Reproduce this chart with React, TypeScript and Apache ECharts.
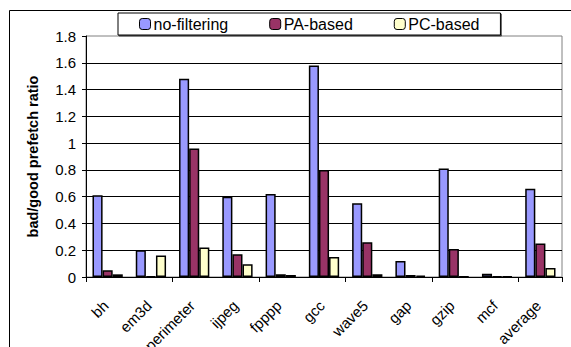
import React, { useEffect, useRef } from "react";
import * as echarts from "echarts";

const categories = ["bh", "em3d", "perimeter", "ijpeg", "fpppp", "gcc", "wave5", "gap", "gzip", "mcf", "average"];
const noFiltering = [0.61, 0.2, 1.48, 0.6, 0.62, 1.58, 0.55, 0.12, 0.81, 0.025, 0.66];
const paBased = [0.05, 0.005, 0.96, 0.17, 0.02, 0.8, 0.26, 0.015, 0.21, 0.005, 0.25];
const pcBased = [0.02, 0.16, 0.22, 0.095, 0.015, 0.15, 0.02, 0.01, 0.003, 0.004, 0.067];
const yTicks = [0, 0.2, 0.4, 0.6, 0.8, 1, 1.2, 1.4, 1.6, 1.8];

export default function App() {
  const ref = useRef<HTMLDivElement>(null);
  useEffect(() => {
    if (!ref.current) return;
    const chart = echarts.init(ref.current, null, { renderer: "svg" });
    const font = "Liberation Sans, Arial, sans-serif";
    const mk = (name: string, data: number[], color: string) => ({
      name,
      type: "bar",
      data,
      barGap: "0%",
      barCategoryGap: "30%",
      itemStyle: { color, borderColor: "#000", borderWidth: 1.5 },
    });
    chart.setOption({
      animation: false,
      backgroundColor: "#fff",
      textStyle: { fontFamily: font },
      graphic: [
        {
          type: "rect",
          shape: { x: 9.5, y: 10.5, width: 700, height: 500 },
          style: { fill: "none", stroke: "#000", lineWidth: 1 },
          silent: true,
          z: -1,
        },
      ],
      legend: {
        left: 118,
        top: 13,
        padding: [3, 21, 3, 21],
        itemGap: 41,
        itemWidth: 11,
        itemHeight: 11,
        borderColor: "#000",
        borderWidth: 1,
        backgroundColor: "#fff",
        shadowColor: "rgba(0,0,0,0.6)",
        shadowOffsetX: 1,
        shadowOffsetY: 1,
        shadowBlur: 0,
        textStyle: { fontFamily: font, fontSize: 16, color: "#000", padding: [0, 0, 0, -2] },
        itemStyle: { borderColor: "#000", borderWidth: 1 },
        data: ["no-filtering", "PA-based", "PC-based"],
      },
      grid: {
        left: 86,
        right: 9,
        top: 36,
        bottom: 70,
        show: true,
        borderColor: "#808080",
        borderWidth: 1,
        backgroundColor: "#fff",
      },
      xAxis: {
        type: "category",
        data: categories,
        axisLine: { lineStyle: { color: "#000", width: 1 } },
        axisTick: { show: true, length: 5, lineStyle: { color: "#000" } },
        axisLabel: { show: false },
      },
      yAxis: {
        type: "value",
        min: yTicks[0],
        max: yTicks[yTicks.length - 1],
        interval: 0.2,
        name: "bad/good prefetch ratio",
        nameLocation: "middle",
        nameGap: 46,
        nameTextStyle: { fontSize: 14.5, fontWeight: "bold", color: "#000", fontFamily: font },
        axisLine: { show: true, lineStyle: { color: "#000", width: 1 } },
        axisTick: { show: true, length: 4, lineStyle: { color: "#000" } },
        axisLabel: {
          fontSize: 15,
          color: "#000",
          fontFamily: font,
          margin: 10,
          formatter: (v: number) => String(Math.round(v * 10) / 10),
        },
        splitLine: { show: true, showMaxLine: false, lineStyle: { color: "#000", width: 1 } },
      },
      series: [
        mk("no-filtering", noFiltering, "#9999FF"),
        mk("PA-based", paBased, "#993366"),
        mk("PC-based", pcBased, "#FFFFCC"),
        {
          name: "labels",
          type: "custom",
          silent: true,
          clip: false,
          z: 10,
          data: categories.map((c) => [c, 0]),
          renderItem: (params: any, api: any) => {
            const p = api.coord([api.value(0), 0]);
            return {
              type: "text",
              x: p[0] - 2,
              y: p[1] + 26,
              rotation: Math.PI / 4,
              style: {
                text: categories[params.dataIndex],
                align: "right",
                verticalAlign: "middle",
                fontSize: 15,
                fontFamily: font,
                fill: "#000",
              },
            };
          },
        },
      ],
    });
    return () => chart.dispose();
  }, []);
  return <div ref={ref} style={{ position: "absolute", left: 0, top: 0, width: 571, height: 347 }} />;
}
